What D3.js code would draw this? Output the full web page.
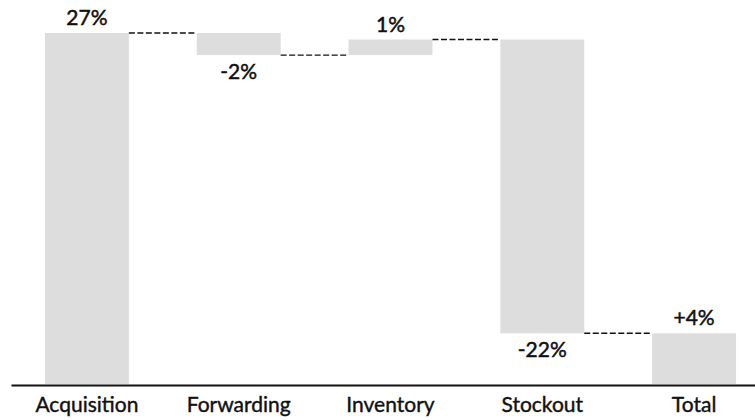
<!DOCTYPE html>
<html>
<head>
<meta charset="utf-8">
<script src="https://cdn.jsdelivr.net/npm/d3@7"></script>
<style>
  body { margin: 0; background: #fff; }
  svg { display: block; font-family: Lato, "Open Sans", sans-serif; }
</style>
</head>
<body>
<svg id="chart" width="755" height="420"></svg>
<script>
// waterfall steps (percentage points), total is the running sum
const categories = ["Acquisition", "Forwarding", "Inventory", "Stockout", "Total"];
const changes = [27, -1.7, 1.2, -22.6];
const valueLabels = ["27%", "-2%", "1%", "-22%", "+4%"];

const width = 755, height = 420;

// build start/end for each bar
let run = 0;
const bars = changes.map((v, i) => {
  const start = run;
  run += v;
  return {name: categories[i], start, end: run, value: v, label: valueLabels[i]};
});
bars.push({name: categories[4], start: 0, end: run, value: run, label: valueLabels[4]});

const svg = d3.select("#chart");

const x = d3.scaleBand()
  .domain(categories)
  .range([11, 770])
  .paddingInner(0.447)
  .paddingOuter(0.2235);

const y = d3.scaleLinear()
  .domain([0, 27])
  .range([384, 33]);

svg.append("g")
  .selectAll("rect")
  .data(bars)
  .join("rect")
  .attr("x", d => x(d.name))
  .attr("width", x.bandwidth())
  .attr("y", d => y(Math.max(d.start, d.end)))
  .attr("height", d => Math.abs(y(d.start) - y(d.end)))
  .attr("fill", "#dddddd");

// dashed connectors between bars
svg.append("g")
  .selectAll("line")
  .data(bars.slice(0, -1))
  .join("line")
  .attr("x1", d => x(d.name) + x.bandwidth())
  .attr("x2", (d, i) => x(categories[i + 1]))
  .attr("y1", d => y(d.end))
  .attr("y2", d => y(d.end))
  .attr("stroke", "#111")
  .attr("stroke-width", 1.4)
  .attr("stroke-dasharray", "6,2.5");

// value labels
svg.append("g")
  .selectAll("text")
  .data(bars)
  .join("text")
  .attr("x", d => x(d.name) + x.bandwidth() / 2)
  .attr("y", d => d.value >= 0 ? y(Math.max(d.start, d.end)) - 8 : y(d.end) + 24)
  .attr("text-anchor", "middle")
  .attr("font-size", 21)
  .attr("fill", "#111")
  .attr("stroke", "#111")
  .attr("stroke-width", 0.5)
  .text(d => d.label);

// category axis
const axis = svg.append("g")
  .attr("transform", `translate(0,385)`)
  .call(d3.axisBottom(x).tickSize(0).tickSizeOuter(0).tickPadding(12));

axis.select(".domain").attr("stroke", "#111").attr("stroke-width", 2);
axis.selectAll("text")
  .attr("font-size", 21)
  .attr("font-family", "Lato, 'Open Sans', sans-serif")
  .attr("fill", "#111")
  .attr("stroke", "#111")
  .attr("stroke-width", 0.4);
</script>
</body>
</html>
